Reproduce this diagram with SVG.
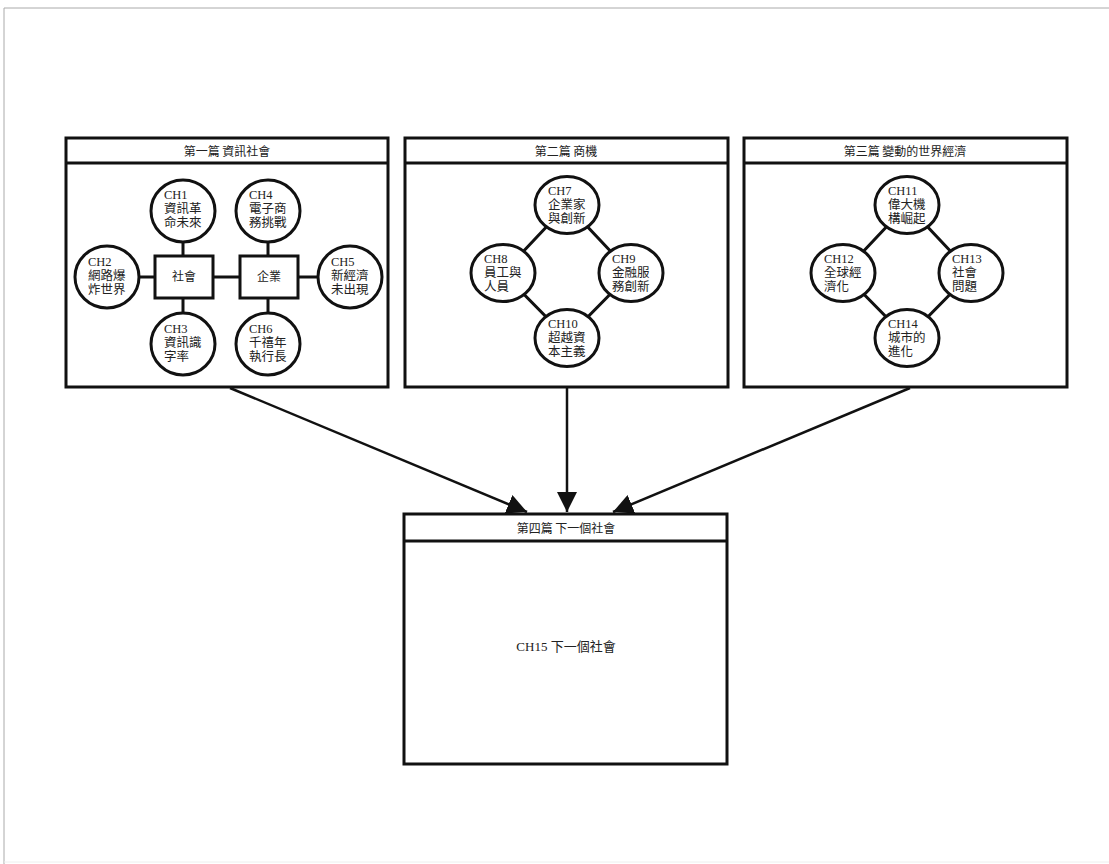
<svg xmlns="http://www.w3.org/2000/svg" width="1109" height="864" viewBox="0 0 1109 864">
<defs>
<style>
.frame{fill:#fff;stroke:#111;stroke-width:3}
.hdr{fill:none;stroke:#111;stroke-width:3}
.c{fill:#fff;stroke:#111;stroke-width:3}
.ln{stroke:#111;stroke-width:3;fill:none}
.ttl{font-family:"Noto Sans CJK TC","Noto Sans CJK SC",sans-serif;font-size:12px;fill:#222;text-anchor:middle}
.t{font-family:"Liberation Serif","Noto Sans CJK TC",serif;font-size:12.5px;fill:#222}
.tc{font-family:"Liberation Serif","Noto Sans CJK TC",serif;font-size:13px;fill:#222;text-anchor:middle}
.arr{stroke:#111;stroke-width:2.5;fill:none}
</style>
<marker id="ah" markerUnits="userSpaceOnUse" markerWidth="20" markerHeight="20" viewBox="0 0 18 18" refX="18" refY="9" orient="auto">
<path d="M0,0 L18,9 L0,18 Z" fill="#111"/>
</marker>
</defs>
<rect width="1109" height="864" fill="#fff"/>
<path d="M4,864 L4,8 L1109,8" fill="none" stroke="#aaa" stroke-width="1"/>
<line x1="4" y1="862" x2="1109" y2="862" stroke="#eee" stroke-width="1"/>

<g id="connectors">
<path class="arr" d="M230,388 L527,512" marker-end="url(#ah)"/>
<path class="arr" d="M567,388 L567,512" marker-end="url(#ah)"/>
<path class="arr" d="M910,388 L613,512" marker-end="url(#ah)"/>
</g>

<g id="part1">
<rect class="frame" x="66" y="138" width="322" height="249"/>
<line class="hdr" x1="66" y1="163" x2="388" y2="163"/>
<text class="ttl" x="227" y="156">第一篇 資訊社會</text>
<g id="part1-links">
<line class="ln" x1="183" y1="210" x2="183" y2="343"/>
<line class="ln" x1="268" y1="210" x2="268" y2="343"/>
<line class="ln" x1="107" y1="277" x2="350" y2="277"/>
</g>
<g id="society"><rect class="c" x="155" y="256" width="58" height="42"/><text class="ttl" x="184" y="281">社會</text></g>
<g id="enterprise"><rect class="c" x="240" y="256" width="58" height="42"/><text class="ttl" x="269" y="281">企業</text></g>
<g id="ch1"><ellipse class="c" cx="183" cy="211" rx="32" ry="31"/><text class="t" x="164" y="199">CH1<tspan x="164" y="213">資訊革</tspan><tspan x="164" y="227">命未來</tspan></text></g>
<g id="ch4"><ellipse class="c" cx="268" cy="211" rx="32" ry="31"/><text class="t" x="249" y="199">CH4<tspan x="249" y="213">電子商</tspan><tspan x="249" y="227">務挑戰</tspan></text></g>
<g id="ch2"><ellipse class="c" cx="107" cy="277" rx="32" ry="31"/><text class="t" x="88" y="266">CH2<tspan x="88" y="280">網路爆</tspan><tspan x="88" y="294">炸世界</tspan></text></g>
<g id="ch5"><ellipse class="c" cx="350" cy="277" rx="32" ry="31"/><text class="t" x="331" y="266">CH5<tspan x="331" y="280">新經濟</tspan><tspan x="331" y="294">未出現</tspan></text></g>
<g id="ch3"><ellipse class="c" cx="183" cy="344" rx="32" ry="31"/><text class="t" x="164" y="333">CH3<tspan x="164" y="347">資訊識</tspan><tspan x="164" y="361">字率</tspan></text></g>
<g id="ch6"><ellipse class="c" cx="268" cy="344" rx="32" ry="31"/><text class="t" x="249" y="333">CH6<tspan x="249" y="347">千禧年</tspan><tspan x="249" y="361">執行長</tspan></text></g>
</g>

<g id="part2">
<rect class="frame" x="405" y="138" width="323" height="249"/>
<line class="hdr" x1="405" y1="163" x2="728" y2="163"/>
<text class="ttl" x="566" y="156">第二篇 商機</text>
<path class="ln" d="M567,205 L503,273 L567,338 L631,273 Z"/>
<g id="ch7"><ellipse class="c" cx="567" cy="205" rx="32" ry="28.5"/><text class="t" x="548" y="195">CH7<tspan x="548" y="209">企業家</tspan><tspan x="548" y="223">與創新</tspan></text></g>
<g id="ch8"><ellipse class="c" cx="503" cy="273" rx="32" ry="28.5"/><text class="t" x="484" y="263">CH8<tspan x="484" y="277">員工與</tspan><tspan x="484" y="291">人員</tspan></text></g>
<g id="ch9"><ellipse class="c" cx="631" cy="273" rx="32" ry="28.5"/><text class="t" x="612" y="263">CH9<tspan x="612" y="277">金融服</tspan><tspan x="612" y="291">務創新</tspan></text></g>
<g id="ch10"><ellipse class="c" cx="567" cy="338" rx="32" ry="28.5"/><text class="t" x="548" y="328">CH10<tspan x="548" y="342">超越資</tspan><tspan x="548" y="356">本主義</tspan></text></g>
</g>

<g id="part3">
<rect class="frame" x="744" y="138" width="323" height="249"/>
<line class="hdr" x1="744" y1="163" x2="1067" y2="163"/>
<text class="ttl" x="905" y="156">第三篇 變動的世界經濟</text>
<path class="ln" d="M907,205 L843,273 L907,338 L971,273 Z"/>
<g id="ch11"><ellipse class="c" cx="907" cy="205" rx="32" ry="28.5"/><text class="t" x="888" y="195">CH11<tspan x="888" y="209">偉大機</tspan><tspan x="888" y="223">構崛起</tspan></text></g>
<g id="ch12"><ellipse class="c" cx="843" cy="273" rx="32" ry="28.5"/><text class="t" x="824" y="263">CH12<tspan x="824" y="277">全球經</tspan><tspan x="824" y="291">濟化</tspan></text></g>
<g id="ch13"><ellipse class="c" cx="971" cy="273" rx="32" ry="28.5"/><text class="t" x="952" y="263">CH13<tspan x="952" y="277">社會</tspan><tspan x="952" y="291">問題</tspan></text></g>
<g id="ch14"><ellipse class="c" cx="907" cy="338" rx="32" ry="28.5"/><text class="t" x="888" y="328">CH14<tspan x="888" y="342">城市的</tspan><tspan x="888" y="356">進化</tspan></text></g>
</g>

<g id="part4">
<rect class="frame" x="404" y="514" width="323" height="250"/>
<line class="hdr" x1="404" y1="541" x2="727" y2="541"/>
<text class="ttl" x="566" y="533">第四篇 下一個社會</text>
<text class="tc" x="566" y="651">CH15 下一個社會</text>
</g>
</svg>
